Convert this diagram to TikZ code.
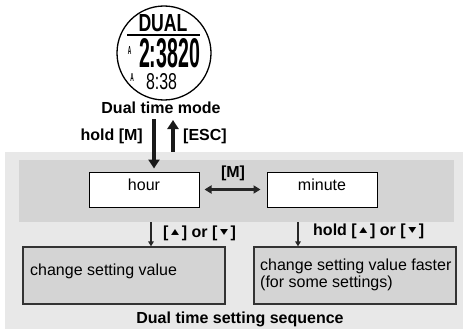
\documentclass[tikz,border=0pt]{standalone}
\usepackage{fontspec}
\setmainfont{Liberation Sans}
\newfontfamily\symfont{DejaVu Sans}
\usepackage{graphicx}
\usetikzlibrary{arrows.meta}

\definecolor{fondo}{gray}{0.91}
\definecolor{banda}{gray}{0.83}
\definecolor{borde}{gray}{0.2}

\newcommand{\teclaup}{[\,\raisebox{3pt}{\resizebox{8pt}{5pt}{\symfont ▲}}\,]}
\newcommand{\tecladown}{[\,\raisebox{3pt}{\resizebox{8pt}{5pt}{\symfont ▼}}\,]}

\begin{document}
\begin{tikzpicture}[x=1pt,y=-1pt,
		txt/.style={font=\fontsize{16}{17}\selectfont, inner sep=0pt},
		btxt/.style={font=\fontsize{16}{17}\selectfont\bfseries, inner sep=0pt},
		lcd/.style={inner sep=0pt},
		caja/.style={draw=black, line width=1pt, fill=white, minimum width=110pt, minimum height=35pt},
		cajagris/.style={draw=borde, line width=1.2pt, fill=banda, minimum width=202pt, minimum height=57pt},
		flechagrande/.style={line width=4.5pt, draw=black!90, -{Triangle[length=9pt,width=11pt]}},
		flechachica/.style={line width=2.5pt, draw=black!85, -{Triangle[length=5pt,width=5.5pt]}},
		flechadoble/.style={line width=3pt, draw=black!85, {Triangle[length=7pt,width=8pt]}-{Triangle[length=7pt,width=8pt]}}]
				\useasboundingbox (0,0) rectangle (463,329);

				% Fondos
				\node[fill=fondo, minimum width=458pt, minimum height=177pt, inner sep=0pt] (seq) at (234,240.5) {};
				\node[fill=banda, minimum width=435pt, minimum height=62pt, inner sep=0pt] (band) at (236.5,191) {};

				% Reloj
				\node[circle, draw=black, line width=1.3pt, fill=white, minimum size=94pt] (watch) at (164,53) {};
				\node[lcd] (dual) at (163,23.5) {\resizebox{49pt}{17pt}{\bfseries DUAL}};
				\draw[line width=2pt] (127,35) -- (200,35);
				\node[lcd] (main) at (169.5,53.5) {\resizebox{61pt}{29pt}{\bfseries 2:3820}};
				\node[lcd] (dual2) at (161.5,81.5) {\resizebox{31pt}{16pt}{8:38}};
				\node[lcd] (am1) at (129.5,51) {\resizebox{3.5pt}{8pt}{\bfseries A}};
				\node[lcd] (am2) at (132,77.5) {\resizebox{3.5pt}{8pt}{\bfseries A}};

				\node[btxt] (mode) at (161,108) {Dual time mode};

				% Cajas
				\node[caja] (hour) at (144,189.5) {};
				\node[txt] (hourtxt) at (144,185) {hour};
				\node[caja] (minute) at (322,189.5) {};
				\node[txt] (minutetxt) at (322,185) {minute};

				\node[cajagris] (valor) at (124,275.5) {};
				\node[txt, anchor=west] (valortxt) at (30,271) {change setting value};
				\node[cajagris] (rapido) at (355,275.5) {};
				\node[txt, anchor=west, align=left] (rapidotxt) at (260,275) {change setting value faster\\(for some settings)};

				% Flechas
				\coordinate (holdm) at (154,119);
				\coordinate (esc) at (173,120);
				\draw[flechagrande, shorten >=3pt] (holdm) -- (holdm |- hour.north);
				\draw[flechagrande] (esc |- seq.north) -- (esc);
				\draw[flechadoble, shorten <=5pt, shorten >=6pt] (hour.east) -- (minute.west);
				\coordinate (k1) at (151,222);
				\coordinate (k2) at (298,222);
				\draw[flechachica] (k1) -- (k1 |- valor.north);
				\draw[flechachica] (k2) -- (k2 |- rapido.north);

				% Etiquetas
				\node[btxt, anchor=east] (holdlbl) at (143,136) {hold [M]};
				\node[btxt, anchor=west] (esclbl) at (183,136) {[ESC]};
				\node[btxt] (mlbl) at (233,173) {[M]};
				\node[btxt, anchor=west] (updown1) at (163,233) {\teclaup\ or \tecladown};
				\node[btxt, anchor=west] (updown2) at (313,231) {hold \teclaup\ or \tecladown};
				\node[btxt] (titulo) at (240,319) {Dual time setting sequence};

			\end{tikzpicture}
\end{document}
